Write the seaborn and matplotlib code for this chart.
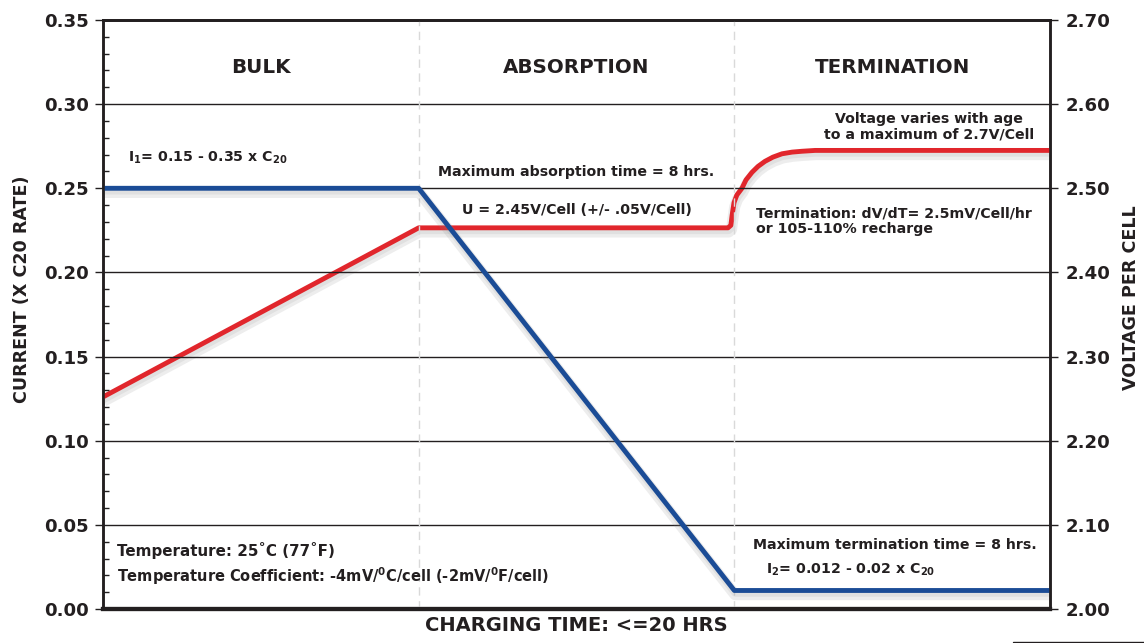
import matplotlib
matplotlib.use("Agg")
import matplotlib.pyplot as plt
import matplotlib.patheffects as pe
from matplotlib.lines import Line2D
from matplotlib.ticker import MultipleLocator
import seaborn as sns
import pandas as pd

# ---- data ----
phases = ["BULK", "ABSORPTION", "TERMINATION"]
phase_bounds = [1.0, 2.0]
current_time = [0.0, 1.0, 2.0, 3.0]
current_vals = [0.25, 0.25, 0.011, 0.011]
voltage_time = [0.0, 1.0, 1.980, 1.989, 1.993, 1.999, 2.008, 2.024, 2.037, 2.056, 2.075,
                2.097, 2.122, 2.151, 2.183, 2.214, 2.256, 2.303, 3.0]
voltage_vals = [2.252, 2.453, 2.453, 2.456, 2.468, 2.483, 2.492, 2.500, 2.510, 2.519, 2.526,
                2.532, 2.537, 2.541, 2.543, 2.544, 2.545, 2.545, 2.545]
left_ticks = [0.00, 0.05, 0.10, 0.15, 0.20, 0.25, 0.30, 0.35]
right_ticks = [2.00, 2.10, 2.20, 2.30, 2.40, 2.50, 2.60, 2.70]

sns.set_theme(style="white")
plt.rcParams["font.family"] = ["DejaVu Sans"]
plt.rcParams["font.weight"] = "bold"
plt.rcParams["mathtext.fontset"] = "custom"
plt.rcParams["mathtext.rm"] = "DejaVu Sans:bold"
plt.rcParams["mathtext.bf"] = "DejaVu Sans:bold"
plt.rcParams["mathtext.it"] = "DejaVu Sans:bold"
plt.rcParams["mathtext.default"] = "bf"

BLUE = "#1b4c96"
RED = "#e1262c"
TXT = "#231f20"

fig = plt.figure(figsize=(11.44, 6.43), dpi=100)
ax = fig.add_axes([103/1144, 34/643, 947/1144, 589/643])
ax2 = ax.twinx()

shadow = [pe.SimpleLineShadow(offset=(0.5, -3), shadow_color="#888888", alpha=0.15, linewidth=8),
          pe.SimpleLineShadow(offset=(0.5, -2), shadow_color="#888888", alpha=0.12, linewidth=5),
          pe.Normal()]

df_c = pd.DataFrame({"time": current_time, "current": current_vals})
df_v = pd.DataFrame({"time": voltage_time, "voltage": voltage_vals})

# gridlines
for t in left_ticks[1:-1]:
    ax.axhline(t, color=TXT, lw=1.0, zorder=1)
for b in phase_bounds:
    ax.axvline(b, color="#d9d9d9", lw=1.0, ls=(0, (6, 4)), zorder=1)

sns.lineplot(data=df_v, x="time", y="voltage", ax=ax2, color=RED, lw=3.5, sort=False,
             solid_capstyle="butt", solid_joinstyle="round")
sns.lineplot(data=df_c, x="time", y="current", ax=ax, color=BLUE, lw=3.5, sort=False,
             solid_capstyle="butt")
ax.lines[-1].set_path_effects(shadow)
ax2.lines[-1].set_path_effects(shadow)
ax2.lines[-1].set_zorder(3)
ax.set_zorder(ax2.get_zorder() + 1)
ax.patch.set_visible(False)

ax.set_xlim(0, 3)
ax.set_ylim(0, 0.35)
ax2.set_ylim(2.0, 2.7)
ax.set_xticks([])
ax.set_yticks(left_ticks)
ax.set_yticklabels([f"{t:.2f}" for t in left_ticks])
ax.yaxis.set_minor_locator(MultipleLocator(0.01))
ax2.set_yticks(right_ticks)
ax2.set_yticklabels([f"{t:.2f}" for t in right_ticks])

ax.tick_params(axis="y", which="major", direction="out", length=6, width=1, color=TXT,
               labelsize=13.1, labelcolor=TXT, pad=4, left=True)
ax.tick_params(axis="y", which="minor", direction="in", length=4, width=1, color=TXT, left=True)
ax2.tick_params(axis="y", which="major", direction="out", length=6, width=1, color=TXT,
                labelsize=13.1, labelcolor=TXT, pad=5, right=True)
for lab in ax.get_yticklabels() + ax2.get_yticklabels():
    lab.set_fontweight("bold")

for a in (ax, ax2):
    for s in a.spines.values():
        s.set_color(TXT)
    a.spines["left"].set_linewidth(1.8)
    a.spines["right"].set_linewidth(1.8)
    a.spines["top"].set_linewidth(2.0)
    a.spines["bottom"].set_linewidth(3.0)

ax.set_xlabel("CHARGING TIME: <=20 HRS", fontsize=14, fontweight="bold", color=TXT, labelpad=5)
ax.set_ylabel("CURRENT (X C20 RATE)", fontsize=12.6, fontweight="bold", color=TXT)
ax2.set_ylabel("VOLTAGE PER CELL", fontsize=12.6, fontweight="bold", color=TXT, rotation=90)
ax.yaxis.set_label_coords((22 - 103) / 947, 0.543)
ax2.yaxis.set_label_coords((1131 - 103) / 947, 0.528)
ax.yaxis.label.set_va("center")
ax2.yaxis.label.set_va("center")
ax2.set_xlabel("")

# phase titles
for i, p in enumerate(phases):
    ax.text(i + 0.5, 0.322, p, ha="center", va="center", fontsize=14.3, fontweight="bold", color=TXT)

fs = 10.2
kw = dict(fontweight="bold", color=TXT)
ax.text(0.08, 0.268, r"I$_{1}$= 0.15 - 0.35 x C$_{20}$", ha="left", va="center", fontsize=fs, **kw)
ax.text(1.5, 0.2597, "Maximum absorption time = 8 hrs.", ha="center", va="center", fontsize=fs, **kw)
ax.text(1.5, 0.237, "U = 2.45V/Cell (+/- .05V/Cell)", ha="center", va="center", fontsize=fs, **kw)
ax.text(2.617, 0.2865, "Voltage varies with age\nto a maximum of 2.7V/Cell", ha="center", va="center",
        multialignment="center", linespacing=1.2, fontsize=fs, **kw)
ax.text(2.07, 0.2305, "Termination: dV/dT= 2.5mV/Cell/hr\nor 105-110% recharge", ha="left", va="center",
        linespacing=1.2, fontsize=fs, **kw)
ax.text(0.045, 0.0350, "Temperature: 25˚C (77˚F)", ha="left", va="center", fontsize=10.9, **kw)
ax.text(0.045, 0.0195, r"Temperature Coefficient: -4mV/$^{0}$C/cell (-2mV/$^{0}$F/cell)",
        ha="left", va="center", fontsize=10.5, **kw)
ax.text(2.51, 0.0380, "Maximum termination time = 8 hrs.", ha="center", va="center", fontsize=fs, **kw)
ax.text(2.10, 0.0235, r"I$_{2}$= 0.012 - 0.02 x C$_{20}$", ha="left", va="center", fontsize=fs, **kw)

# stray rule at bottom right of the original
fig.add_artist(Line2D([1013/1144, 1.0], [1.5/643, 1.5/643], color=TXT, lw=1.0, transform=fig.transFigure))

fig.savefig("out.png", dpi=100)
